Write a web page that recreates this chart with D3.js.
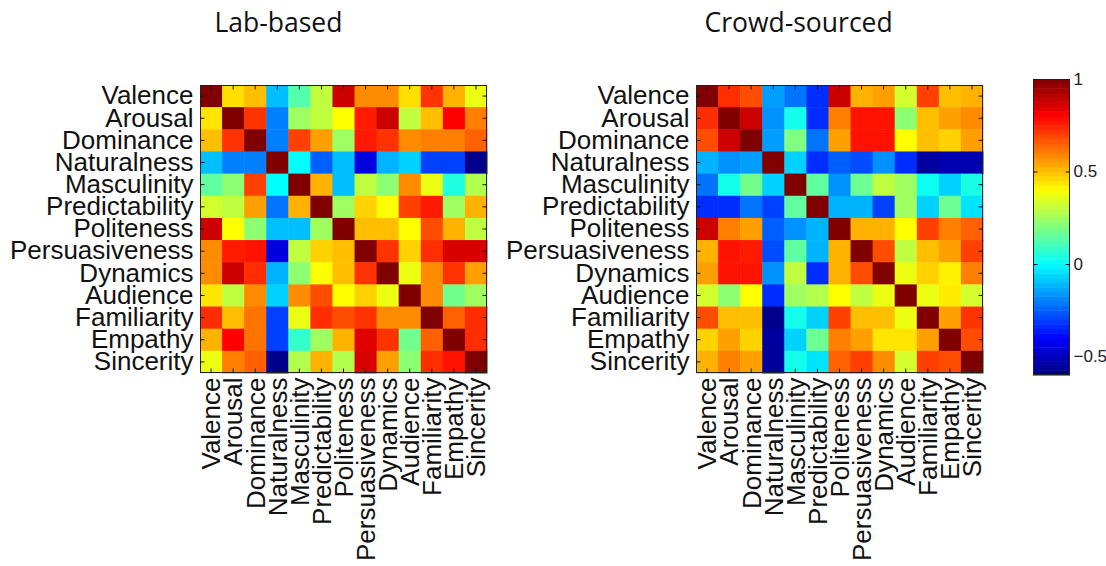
<!DOCTYPE html>
<html lang="en">
<head>
<meta charset="UTF-8" />
<title>Lab-based vs Crowd-sourced correlations</title>
<script src="https://cdn.jsdelivr.net/npm/d3@7"></script>
<style>
  body { margin: 0; background: #fff; }
  .ylab text, .xlab text { font-family: "Liberation Sans", Arial, sans-serif; font-size: 26px; fill: #111; }
  .cbar text { font-family: "Liberation Sans", Arial, sans-serif; font-size: 17px; fill: #222; }
  .tick line { stroke: #111; stroke-width: 1px; }
  .domain { display: none; }
  .title { font-family: "Open Sans", sans-serif; font-size: 26.5px; fill: #111; }
  .frame { fill: none; stroke: #222; stroke-width: 1px; }
</style>
</head>
<body>
<script>
var labels = ["Valence", "Arousal", "Dominance", "Naturalness", "Masculinity", "Predictability",
  "Politeness", "Persuasiveness", "Dynamics", "Audience", "Familiarity", "Empathy", "Sincerity"];

// correlations
var labMatrix = [
  [1.00, 0.45, 0.50, -0.10, 0.13, 0.30, 0.88, 0.58, 0.58, 0.45, 0.72, 0.52, 0.37],
  [0.44, 1.00, 0.72, -0.20, 0.25, 0.30, 0.40, 0.76, 0.88, 0.30, 0.50, 0.80, 0.60],
  [0.50, 0.72, 1.00, -0.20, 0.70, 0.55, 0.25, 0.76, 0.72, 0.58, 0.60, 0.60, 0.65],
  [-0.10, -0.20, -0.20, 1.00, 0.00, -0.25, -0.10, -0.45, -0.12, -0.07, -0.30, -0.30, -0.58],
  [0.15, 0.22, 0.70, 0.00, 1.00, 0.52, -0.10, 0.30, 0.22, 0.58, 0.37, 0.05, 0.28],
  [0.33, 0.30, 0.55, -0.22, 0.52, 1.00, 0.25, 0.47, 0.40, 0.70, 0.76, 0.25, 0.52],
  [0.88, 0.40, 0.22, -0.10, -0.10, 0.25, 1.00, 0.50, 0.50, 0.40, 0.68, 0.52, 0.30],
  [0.58, 0.76, 0.77, -0.45, 0.30, 0.47, 0.50, 1.00, 0.72, 0.47, 0.73, 0.86, 0.86],
  [0.58, 0.88, 0.73, -0.12, 0.22, 0.40, 0.50, 0.72, 1.00, 0.37, 0.58, 0.72, 0.55],
  [0.44, 0.30, 0.58, -0.07, 0.58, 0.68, 0.40, 0.47, 0.37, 1.00, 0.58, 0.18, 0.25],
  [0.73, 0.50, 0.62, -0.30, 0.37, 0.73, 0.68, 0.72, 0.58, 0.58, 1.00, 0.65, 0.73],
  [0.52, 0.80, 0.62, -0.30, 0.08, 0.25, 0.52, 0.85, 0.72, 0.18, 0.65, 1.00, 0.73],
  [0.37, 0.60, 0.65, -0.58, 0.28, 0.52, 0.28, 0.86, 0.55, 0.22, 0.73, 0.77, 1.00]
];

// correlations
var crowdMatrix = [
  [1.00, 0.73, 0.68, -0.15, -0.22, -0.33, 0.88, 0.52, 0.55, 0.33, 0.70, 0.50, 0.52],
  [0.73, 1.00, 0.88, -0.17, 0.03, -0.33, 0.60, 0.77, 0.77, 0.22, 0.50, 0.55, 0.58],
  [0.68, 0.88, 1.00, -0.15, 0.20, -0.22, 0.55, 0.77, 0.77, 0.40, 0.50, 0.47, 0.55],
  [-0.12, -0.17, -0.15, 1.00, -0.07, -0.33, -0.25, -0.28, -0.17, -0.33, -0.55, -0.52, -0.52],
  [-0.22, 0.03, 0.18, -0.07, 1.00, 0.15, -0.17, 0.17, 0.30, 0.25, 0.02, -0.07, 0.04],
  [-0.33, -0.33, -0.22, -0.30, 0.15, 1.00, -0.12, -0.12, -0.30, 0.25, -0.07, 0.17, -0.04],
  [0.88, 0.60, 0.55, -0.25, -0.17, -0.12, 1.00, 0.52, 0.52, 0.40, 0.70, 0.60, 0.65],
  [0.52, 0.77, 0.76, -0.28, 0.15, -0.12, 0.52, 1.00, 0.68, 0.30, 0.50, 0.55, 0.70],
  [0.55, 0.77, 0.77, -0.17, 0.30, -0.33, 0.52, 0.68, 1.00, 0.37, 0.47, 0.42, 0.60],
  [0.33, 0.22, 0.40, -0.33, 0.25, 0.28, 0.40, 0.30, 0.37, 1.00, 0.37, 0.43, 0.33],
  [0.68, 0.50, 0.50, -0.58, 0.03, -0.07, 0.70, 0.50, 0.50, 0.37, 1.00, 0.55, 0.72],
  [0.47, 0.55, 0.47, -0.55, -0.07, 0.17, 0.60, 0.55, 0.44, 0.44, 0.55, 1.00, 0.68],
  [0.52, 0.60, 0.55, -0.55, 0.03, -0.04, 0.65, 0.70, 0.58, 0.33, 0.70, 0.68, 1.00]
];

var colorDomain = [-0.6, 1];
var colorTicks = [1, 0.5, 0, -0.5];

// matlab style jet colormap
function jet(t) {
  t = Math.max(0, Math.min(1, t));
  function c(v) { return Math.round(255 * Math.max(0, Math.min(1, v))); }
  return d3.rgb(c(1.5 - Math.abs(4 * t - 3)), c(1.5 - Math.abs(4 * t - 2)), c(1.5 - Math.abs(4 * t - 1))).toString();
}
var norm = d3.scaleLinear().domain(colorDomain).range([0, 1]);
function color(v) { return jet(norm(v)); }

var svg = d3.select("body").append("svg")
  .attr("width", 1106)
  .attr("height", 566);

function drawPanel(matrix, title, left, titleX) {
  var top = 85, size = 288;
  var x = d3.scaleBand().domain(labels).range([left, left + size - 1]);
  var y = d3.scaleBand().domain(labels).range([top, top + size]);
  var g = svg.append("g");

  var rows = g.selectAll("g.row").data(matrix).enter().append("g").attr("class", "row");
  rows.selectAll("rect")
    .data(function(r, i) { return r.map(function(v, j) { return {i: i, j: j, v: v}; }); })
    .enter().append("rect")
    .attr("x", function(d) { return x(labels[d.j]); })
    .attr("y", function(d) { return y(labels[d.i]); })
    .attr("width", x.bandwidth() + 0.5)
    .attr("height", y.bandwidth() + 0.5)
    .attr("fill", function(d) { return color(d.v); });

  g.append("rect").attr("class", "frame")
    .attr("x", left + 0.5).attr("y", top + 0.5)
    .attr("width", size - 2).attr("height", size - 1);

  // left axis with labels
  g.append("g").attr("class", "ylab")
    .attr("transform", "translate(" + (left + 0.5) + ",0)")
    .call(d3.axisLeft(y).tickSize(-4).tickSizeOuter(0).tickPadding(7));
  // right axis, ticks only
  g.append("g")
    .attr("transform", "translate(" + (left + size - 1.5) + ",0)")
    .call(d3.axisRight(y).tickSize(-4).tickSizeOuter(0).tickFormat(""));
  // top axis, ticks only
  g.append("g")
    .attr("transform", "translate(0," + (top + 0.5) + ")")
    .call(d3.axisTop(x).tickSize(-4).tickSizeOuter(0).tickFormat(""));
  // bottom axis, rotated labels
  var xa = g.append("g").attr("class", "xlab")
    .attr("transform", "translate(0," + (top + size - 0.5) + ")")
    .call(d3.axisBottom(x).tickSize(-4).tickSizeOuter(0));
  xa.selectAll("text")
    .attr("transform", "rotate(-90)")
    .attr("text-anchor", "end")
    .attr("x", -5)
    .attr("y", 0)
    .attr("dy", "0.36em");

  svg.append("text").attr("class", "title")
    .attr("x", titleX).attr("y", 32)
    .text(title);
}

drawPanel(labMatrix, "Lab-based", 200, 214.5);
drawPanel(crowdMatrix, "Crowd-sourced", 696, 704.5);

// colorbar
var cb = svg.append("g").attr("class", "cbar");
var cbLeft = 1033, cbWidth = 37;
var cy = d3.scaleLinear().domain(colorDomain).range([375, 79]);
var steps = d3.range(64).map(function(k) { return colorDomain[0] + (colorDomain[1] - colorDomain[0]) * (k + 0.5) / 64; });
var stepH = (cy.range()[0] - cy.range()[1]) / 64;
cb.selectAll("rect.step").data(steps).enter().append("rect")
  .attr("class", "step")
  .attr("x", cbLeft)
  .attr("y", function(v) { return cy(v) - stepH / 2; })
  .attr("width", cbWidth)
  .attr("height", stepH + 0.5)
  .attr("fill", color);
cb.append("rect").attr("class", "frame")
  .attr("x", cbLeft + 0.5).attr("y", 79.5)
  .attr("width", cbWidth - 1).attr("height", 295);
cb.append("g")
  .attr("transform", "translate(" + (cbLeft + cbWidth - 0.5) + ",0)")
  .call(d3.axisRight(cy).tickValues(colorTicks).tickSize(-4).tickSizeOuter(0).tickPadding(4).tickFormat(d3.format("")));
cb.append("g")
  .attr("transform", "translate(" + (cbLeft + 0.5) + ",0)")
  .call(d3.axisLeft(cy).tickValues(colorTicks).tickSize(-4).tickSizeOuter(0).tickFormat(""));
</script>
</body>
</html>
